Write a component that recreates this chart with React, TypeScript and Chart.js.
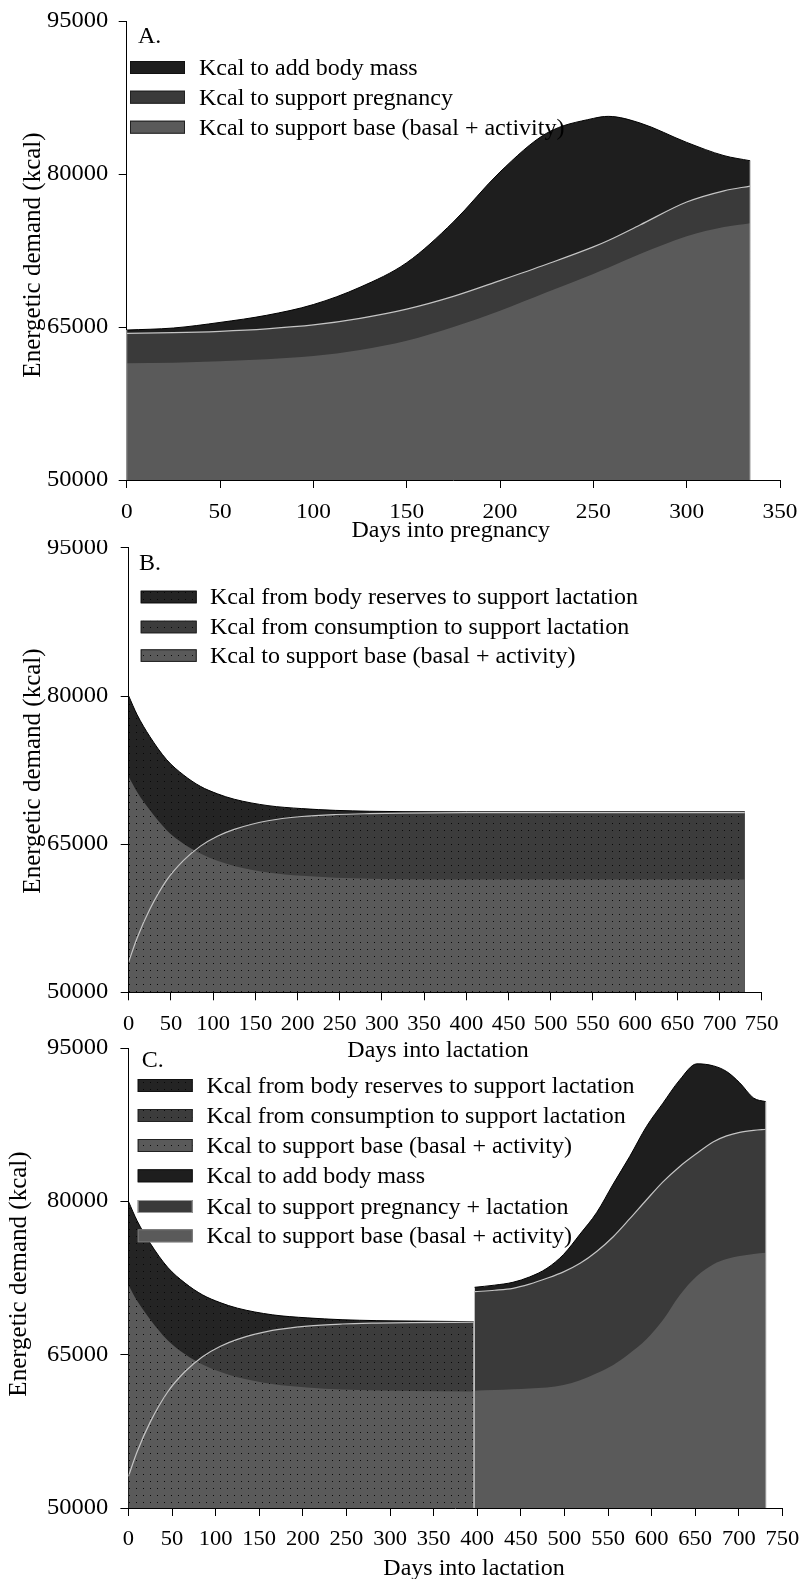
import { useEffect, useRef } from "react";
import { Chart, registerables } from "chart.js";

Chart.register(...registerables);

const SERIF = '"Liberation Serif", "Times New Roman", serif';

// ---- A: energetic demand through pregnancy (kcal) ----
const pregnancyDays = [0, 25, 50, 75, 100, 125, 150, 175, 200, 225, 250, 258, 275, 300, 320, 334];
const pregnancyBase = [61440, 61500, 61650, 61850, 62150, 62750, 63650, 65000, 66600, 68400, 70200, 70800, 72150, 73900, 74800, 75170];
const pregnancyWithFetus = [64380, 64440, 64580, 64820, 65200, 65850, 66750, 68000, 69550, 71150, 72850, 73480, 75000, 77250, 78350, 78820];
const pregnancyTotal = [64700, 64900, 65450, 66150, 67200, 68900, 71300, 75300, 80200, 84000, 85450, 85650, 85000, 83100, 81800, 81300];

// ---- B: energetic demand through lactation (kcal) ----
const lactationDays = [0, 10, 25, 45, 65, 85, 105, 125, 165, 205, 245, 285, 325, 400, 500, 600, 730];
const lactationBase = [71820, 70270, 68450, 66420, 65050, 64050, 63320, 62790, 62130, 61790, 61600, 61500, 61450, 61430, 61430, 61430, 61430];
const lactationIntake = [53100, 55500, 58400, 61350, 63350, 64800, 65800, 66500, 67370, 67800, 68000, 68090, 68140, 68190, 68200, 68200, 68200];
const lactationTotal = [80000, 78100, 75900, 73550, 72000, 70850, 70100, 69550, 68900, 68600, 68420, 68330, 68290, 68270, 68270, 68270, 68270];

// ---- C: lactation followed by the next pregnancy (kcal) ----
const cycleLactDays = [0, 10, 25, 45, 65, 85, 105, 125, 165, 205, 245, 285, 325, 396];
const cycleLactBase = [71820, 70270, 68450, 66420, 65050, 64050, 63320, 62790, 62130, 61790, 61600, 61500, 61450, 61400];
const cycleLactIntake = [53100, 55500, 58400, 61350, 63350, 64800, 65800, 66500, 67370, 67800, 68000, 68090, 68140, 68180];
const cycleLactTotal = [80000, 78100, 75900, 73550, 72000, 70850, 70100, 69550, 68900, 68600, 68420, 68330, 68290, 68230];

const cyclePregDays = [397, 420, 441, 460, 480, 499, 518, 537, 556, 575, 594, 613, 632, 652, 671, 686, 701, 717, 731];
const cyclePregBase = [61480, 61540, 61610, 61700, 61800, 62030, 62500, 63180, 64000, 65130, 66500, 68390, 70800, 72700, 73850, 74350, 74650, 74850, 74970];
const cyclePregWithLact = [71160, 71300, 71490, 71900, 72470, 73100, 73940, 75100, 76540, 78300, 80130, 81900, 83390, 84700, 85830, 86400, 86750, 86950, 87050];
const cyclePregTotal = [71590, 71800, 72080, 72600, 73450, 74800, 76800, 78900, 81700, 84400, 87300, 89600, 91850, 93450, 93250, 92700, 91600, 90100, 89750];

// ---- tick values ----
const demandTicks = { min: 50000, max: 95000, step: 15000 };
const pregnancyAxis = { max: 350, step: 50 };
const lactationAxis = { max: 750, step: 50 };

const DARK = "#1e1e1e";
const MID = "#3a3a3a";
const LIGHT = "#5a5a5a";
const SEAM = "#c4c4c4";

type Item = { label: string; fill: string | CanvasPattern; edge: string };
type Decor = {
  letter: string;
  letterAt: [number, number];
  boxX: number;
  boxW: number;
  boxH: number;
  boxTops: number[];
  textX: number;
  items: Item[];
  xTitle: string;
  xTitleAt: [number, number];
  yTitleAt: [number, number];
  xTickSize: number;
  edges: { ds: number; which: "first" | "last" }[];
};

function text(
  ctx: CanvasRenderingContext2D,
  s: string,
  x: number,
  y: number,
  size: number,
  align: CanvasTextAlign,
  baseline: CanvasTextBaseline,
  rotate = false,
  sy = 0.92
) {
  ctx.save();
  ctx.translate(x, y);
  if (rotate) ctx.rotate(-Math.PI / 2);
  ctx.scale(1, sy);
  ctx.font = `${size}px ${SERIF}`;
  ctx.fillStyle = "#000";
  ctx.textAlign = align;
  ctx.textBaseline = baseline;
  ctx.fillText(s, 0, 0);
  ctx.restore();
}

function decorPlugin(d: Decor) {
  return {
    id: "decor",
    afterDatasetsDraw(chart: any) {
      const ctx: CanvasRenderingContext2D = chart.ctx;
      const bottom = chart.chartArea.bottom;
      ctx.save();
      ctx.strokeStyle = "#b4b4b4";
      ctx.lineWidth = 1;
      for (const e of d.edges) {
        const pts = chart.getDatasetMeta(e.ds).data;
        const p = e.which === "first" ? pts[0] : pts[pts.length - 1];
        ctx.beginPath();
        ctx.moveTo(p.x, p.y);
        ctx.lineTo(p.x, bottom);
        ctx.stroke();
      }
      ctx.restore();
    },
    afterDraw(chart: any) {
      const ctx: CanvasRenderingContext2D = chart.ctx;
      const { x, y } = chart.scales;
      const area = chart.chartArea;
      for (const t of y.ticks) {
        text(ctx, String(t.value), 108.3, y.getPixelForValue(t.value), 24.5, "right", "middle");
      }
      for (const t of x.ticks) {
        text(ctx, String(t.value), x.getPixelForValue(t.value), area.bottom + 32, d.xTickSize, "center", "middle");
      }
      text(ctx, d.xTitle, d.xTitleAt[0], d.xTitleAt[1], 24, "center", "alphabetic");
      text(ctx, "Energetic demand (kcal)", d.yTitleAt[0], d.yTitleAt[1], 25, "center", "middle", true, 1);
      text(ctx, d.letter, d.letterAt[0], d.letterAt[1], 24, "left", "alphabetic");
      d.items.forEach((it, i) => {
        const top = d.boxTops[i];
        ctx.save();
        ctx.fillStyle = it.fill as any;
        ctx.fillRect(d.boxX, top, d.boxW, d.boxH);
        ctx.strokeStyle = it.edge;
        ctx.lineWidth = 1;
        ctx.strokeRect(d.boxX + 0.5, top + 0.5, d.boxW - 1, d.boxH - 1);
        ctx.restore();
        text(ctx, it.label, d.textX, top + d.boxH + 1, 24, "left", "alphabetic");
      });
    },
  };
}

function dots(ctx: CanvasRenderingContext2D, color: string): CanvasPattern {
  const tile = document.createElement("canvas");
  tile.width = 7;
  tile.height = 7;
  const g = tile.getContext("2d")!;
  g.fillStyle = color;
  g.fillRect(0, 0, 7, 7);
  g.fillStyle = "#080808";
  g.fillRect(3, 3, 1, 1);
  return ctx.createPattern(tile, "repeat")!;
}

function pts(days: number[], values: number[]) {
  return days.map((d, i) => ({ x: d, y: values[i] }));
}

function area(days: number[], values: number[], fill: string | CanvasPattern, border: string, width: number) {
  return {
    data: pts(days, values),
    backgroundColor: fill,
    borderColor: border,
    borderWidth: width,
    fill: "start",
    pointRadius: 0,
    cubicInterpolationMode: "monotone",
  };
}

function seam(days: number[], values: number[]) {
  return {
    data: pts(days, values),
    borderColor: SEAM,
    borderWidth: 1.2,
    fill: false,
    pointRadius: 0,
    cubicInterpolationMode: "monotone",
  };
}

function axes(xMax: number, xStep: number, leftWidth: number) {
  const grid = { display: true, drawOnChartArea: false, drawTicks: true, tickLength: 8, color: "#000", lineWidth: 1 };
  const border = { display: true, color: "#000", width: 1 };
  return {
    x: {
      type: "linear",
      min: 0,
      max: xMax,
      ticks: { stepSize: xStep, display: false },
      grid,
      border,
      afterFit: (s: any) => {
        s.height = 30;
      },
    },
    y: {
      type: "linear",
      min: demandTicks.min,
      max: demandTicks.max,
      ticks: { stepSize: demandTicks.step, display: false },
      grid,
      border,
      afterFit: (s: any) => {
        s.width = leftWidth;
      },
    },
  };
}

function baseOptions(scales: any, padding: any) {
  return {
    responsive: false,
    maintainAspectRatio: false,
    animation: false,
    devicePixelRatio: 1,
    events: [],
    layout: { padding },
    plugins: { legend: { display: false }, tooltip: { enabled: false }, title: { display: false } },
    scales,
  };
}

function makePregnancy(_ctx: CanvasRenderingContext2D): any {
  return {
    type: "line",
    data: {
      datasets: [
        seam(pregnancyDays, pregnancyWithFetus),
        area(pregnancyDays, pregnancyBase, LIGHT, LIGHT, 0),
        area(pregnancyDays, pregnancyWithFetus, MID, MID, 0),
        area(pregnancyDays, pregnancyTotal, DARK, "#000", 1),
      ],
    },
    options: baseOptions(axes(pregnancyAxis.max, pregnancyAxis.step, 126.7), { top: 21, left: 0, right: 21, bottom: 40 }),
    plugins: [
      decorPlugin({
        letter: "A.",
        letterAt: [138, 43],
        boxX: 130,
        boxW: 55,
        boxH: 13,
        boxTops: [61, 90.7, 120.7],
        textX: 199,
        items: [
          { label: "Kcal to add body mass", fill: DARK, edge: "#111" },
          { label: "Kcal to support pregnancy", fill: MID, edge: "#222" },
          { label: "Kcal to support base (basal + activity)", fill: LIGHT, edge: "#222" },
        ],
        xTitle: "Days into pregnancy",
        xTitleAt: [450.7, 537],
        yTitleAt: [33, 255],
        xTickSize: 23.3,
        edges: [
          { ds: 3, which: "first" },
          { ds: 3, which: "last" },
        ],
      }),
    ],
  };
}

function makeLactation(ctx: CanvasRenderingContext2D): any {
  const reserves = dots(ctx, "#242424");
  const consumption = dots(ctx, "#3c3c3c");
  const base = dots(ctx, "#5a5a5a");
  return {
    type: "line",
    data: {
      datasets: [
        seam(lactationDays, lactationIntake),
        area(lactationDays, lactationBase, base, LIGHT, 0),
        area(lactationDays, lactationIntake, consumption, MID, 0),
        area(lactationDays, lactationTotal, reserves, "#000", 1),
      ],
    },
    options: baseOptions(axes(lactationAxis.max, lactationAxis.step, 128.7), { top: 7.85, left: 0, right: 39.3, bottom: 42.7 }),
    plugins: [
      decorPlugin({
        letter: "B.",
        letterAt: [139, 30],
        boxX: 140.7,
        boxW: 56,
        boxH: 12.6,
        boxTops: [50.7, 80.7, 109.3],
        textX: 210,
        items: [
          { label: "Kcal from body reserves to support lactation", fill: reserves, edge: "#111" },
          { label: "Kcal from consumption to support lactation", fill: consumption, edge: "#222" },
          { label: "Kcal to support base (basal + activity)", fill: base, edge: "#222" },
        ],
        xTitle: "Days into lactation",
        xTitleAt: [438, 517],
        yTitleAt: [33, 231],
        xTickSize: 22.5,
        edges: [],
      }),
    ],
  };
}

function makeCycle(ctx: CanvasRenderingContext2D): any {
  const reserves = dots(ctx, "#242424");
  const consumption = dots(ctx, "#3c3c3c");
  const base = dots(ctx, "#5a5a5a");
  return {
    type: "line",
    data: {
      datasets: [
        seam(cycleLactDays, cycleLactIntake),
        area(cycleLactDays, cycleLactBase, base, LIGHT, 0),
        area(cycleLactDays, cycleLactIntake, consumption, MID, 0),
        area(cycleLactDays, cycleLactTotal, reserves, "#000", 1),
        seam(cyclePregDays, cyclePregWithLact),
        area(cyclePregDays, cyclePregBase, LIGHT, LIGHT, 0),
        area(cyclePregDays, cyclePregWithLact, MID, MID, 0),
        area(cyclePregDays, cyclePregTotal, DARK, "#000", 1),
      ],
    },
    options: baseOptions(axes(lactationAxis.max, lactationAxis.step, 128.4), { top: 18, left: 0, right: 18.6, bottom: 41 }),
    plugins: [
      decorPlugin({
        letter: "C.",
        letterAt: [141.7, 36.7],
        boxX: 137.7,
        boxW: 55,
        boxH: 13,
        boxTops: [49, 79, 109, 139.3, 170, 199.3],
        textX: 206.5,
        items: [
          { label: "Kcal from body reserves to support lactation", fill: reserves, edge: "#111" },
          { label: "Kcal from consumption to support lactation", fill: consumption, edge: "#222" },
          { label: "Kcal to support base (basal + activity)", fill: base, edge: "#222" },
          { label: "Kcal to add body mass", fill: DARK, edge: "#111" },
          { label: "Kcal to support pregnancy + lactation", fill: MID, edge: "#9a9a9a" },
          { label: "Kcal to support base (basal + activity)", fill: LIGHT, edge: "#777" },
        ],
        xTitle: "Days into lactation",
        xTitleAt: [474, 545],
        yTitleAt: [19, 244],
        xTickSize: 22.5,
        edges: [
          { ds: 3, which: "last" },
          { ds: 7, which: "last" },
        ],
      }),
    ],
  };
}

function Panel({ top, height, make }: { top: number; height: number; make: (ctx: CanvasRenderingContext2D) => any }) {
  const ref = useRef<HTMLCanvasElement | null>(null);
  useEffect(() => {
    const canvas = ref.current!;
    const chart = new Chart(canvas, make(canvas.getContext("2d")!));
    return () => chart.destroy();
  }, [make]);
  return (
    <canvas
      ref={ref}
      width={801}
      height={height}
      style={{ position: "absolute", left: 0, top, width: 801, height, display: "block" }}
    />
  );
}

export default function App() {
  return (
    <div style={{ position: "absolute", left: 0, top: 0, width: 801, height: 1579, background: "#fff" }}>
      <Panel top={0} height={550} make={makePregnancy} />
      <Panel top={540} height={525} make={makeLactation} />
      <Panel top={1030} height={549} make={makeCycle} />
    </div>
  );
}
